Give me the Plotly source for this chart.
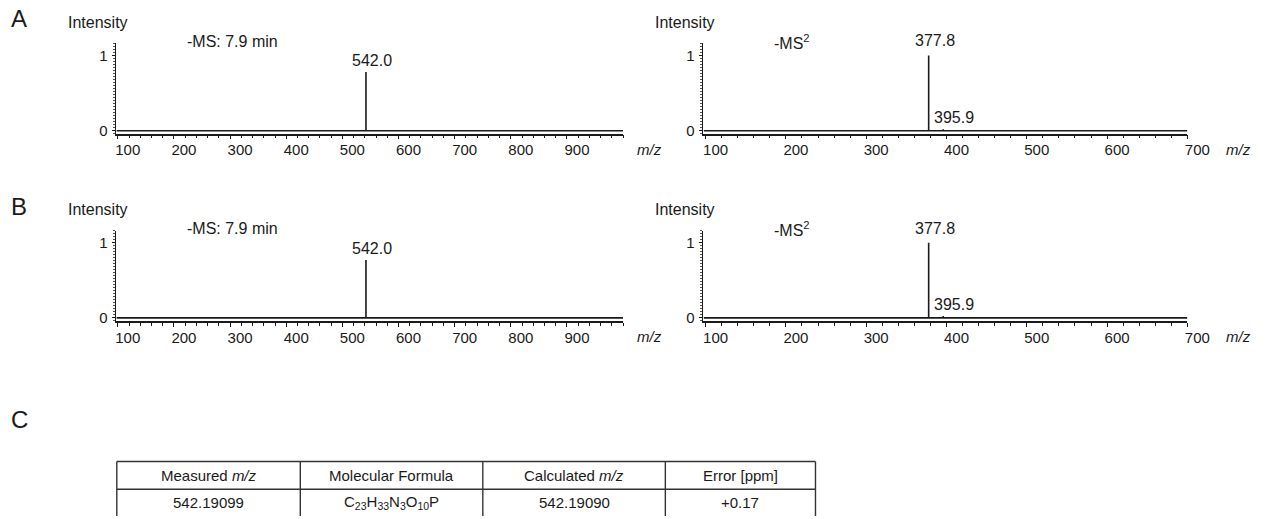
import plotly.graph_objects as go

# ---- spectra: peak m/z and relative intensity ----
ms1_mz_A = [542.0]
ms1_int_A = [0.78]
ms2_mz_A = [377.8, 395.9]
ms2_int_A = [1.0, 0.02]

ms1_mz_B = [542.0]
ms1_int_B = [0.77]
ms2_mz_B = [377.8, 395.9]
ms2_int_B = [1.0, 0.025]

ms1_title = "-MS: 7.9 min"
ms2_title = "-MS<sup>2</sup>"

ms1_range = [96.5, 1000]
ms2_range = [96.3, 700]
ms1_ticks = [100, 200, 300, 400, 500, 600, 700, 800, 900]
ms1_ticktext = ["100", "200", "300", "400", "500", "600", "700", "800", "900"]
ms2_ticks = [100, 200, 300, 400, 500, 600, 700]
ms2_ticktext = ["100", "200", "300", "400", "500", "600", "700"]

# ---- accurate-mass table ----
table_header = ["Measured <i>m/z</i>", "Molecular Formula", "Calculated <i>m/z</i>", "Error [ppm]"]
table_row = ["542.19099",
             "C<sub>23</sub>H<sub>33</sub>N<sub>3</sub>O<sub>10</sub>P",
             "542.19090",
             "+0.17"]
table_colwidths = [187, 186, 186, 153]

W, H = 1283, 519
FONT = "Liberation Sans, Arial, sans-serif"
INK = "#1a1a1a"
Y_RANGE = [-0.04, 1.16]
UNIT = 76  # pixels per intensity unit


def px_x(p):
    return p / W


def px_y(p):
    return 1 - p / H


def stick_xy(mz, inten, lo, hi):
    xs, ys = [lo], [0]
    for m, h in sorted(zip(mz, inten)):
        xs += [m, m, m]
        ys += [0, h, 0]
    xs.append(hi)
    ys.append(0)
    return xs, ys


# panel frames: (left px, right px, baseline px)
frames = {
    1: (117, 634, 132),
    2: (715, 1209, 132),
    3: (117, 634, 321),
    4: (715, 1209, 321),
}

fig = go.Figure()

spectra = [
    (1, ms1_mz_A, ms1_int_A, ms1_range),
    (2, ms2_mz_A, ms2_int_A, ms2_range),
    (3, ms1_mz_B, ms1_int_B, ms1_range),
    (4, ms2_mz_B, ms2_int_B, ms2_range),
]

for k, mz, inten, rng in spectra:
    xs, ys = stick_xy(mz, inten, rng[0] + 1.5, rng[1])
    sfx = "" if k == 1 else str(k)
    fig.add_trace(go.Scatter(
        x=xs, y=ys, mode="lines",
        line=dict(color=INK, width=1.6),
        xaxis="x" + sfx, yaxis="y" + sfx,
        showlegend=False, hoverinfo="skip",
    ))

layout = dict(
    width=W, height=H,
    margin=dict(l=0, r=0, t=0, b=0),
    paper_bgcolor="white", plot_bgcolor="white",
    font=dict(family=FONT, color=INK, size=15),
    showlegend=False,
)

for k, (l, r, base) in frames.items():
    sfx = "" if k == 1 else str(k)
    is_ms1 = k in (1, 3)
    top = base - Y_RANGE[1] * UNIT
    bottom = base - Y_RANGE[0] * UNIT
    layout["xaxis" + sfx] = dict(
        domain=[px_x(l), px_x(r)],
        range=ms1_range if is_ms1 else ms2_range,
        anchor="y" + sfx,
        tickmode="array",
        tickvals=ms1_ticks if is_ms1 else ms2_ticks,
        ticktext=ms1_ticktext if is_ms1 else ms2_ticktext,
        ticks="outside", ticklen=4, tickwidth=1.2, tickcolor=INK,
        minor=dict(tickmode="linear", tick0=0, dtick=20, ticks="outside",
                   ticklen=3, tickwidth=1, tickcolor=INK),
        showline=True, linecolor=INK, linewidth=1.5,
        showgrid=False, zeroline=False,
        tickfont=dict(size=15, family=FONT, color=INK),
        ticklabelshift=10, ticklabelstandoff=-2,
        fixedrange=True,
    )
    layout["yaxis" + sfx] = dict(
        domain=[px_y(bottom), px_y(top)],
        range=Y_RANGE,
        anchor="x" + sfx,
        tickmode="array", tickvals=[0, 1], ticktext=["0", "1"],
        ticks="outside", ticklen=3, tickwidth=1.2, tickcolor=INK,
        minor=dict(tickmode="linear", tick0=0, dtick=0.04, ticks="outside",
                   ticklen=2, tickwidth=1, tickcolor="#555"),
        showline=True, linecolor=INK, linewidth=1.2,
        showgrid=False, zeroline=False,
        tickfont=dict(size=15, family=FONT, color=INK),
        ticklabelstandoff=1,
        fixedrange=True,
    )

fig.update_layout(**layout)

annotations = []

# panel letters
for letter, y in [("A", 19), ("B", 209), ("C", 424)]:
    annotations.append(dict(text=letter, xref="paper", yref="paper",
                            x=px_x(8), y=px_y(y), xanchor="left", yanchor="middle",
                            showarrow=False, font=dict(size=24, family=FONT, color=INK)))

for k, mz, inten, rng in spectra:
    l, r, base = frames[k]
    sfx = "" if k == 1 else str(k)
    # axis captions
    annotations.append(dict(text="Intensity", xref="paper", yref="paper",
                            x=px_x(l - 51), y=px_y(base - 109), xanchor="left", yanchor="middle",
                            showarrow=False, font=dict(size=16, family=FONT, color=INK)))
    annotations.append(dict(text="<i>m/z</i>", xref="paper", yref="paper",
                            x=px_x(r + (27 if k in (1, 3) else 52)), y=px_y(base + 19),
                            xanchor="center", yanchor="middle",
                            showarrow=False, font=dict(size=15, family=FONT, color=INK)))
    # scan title
    annotations.append(dict(text=ms1_title if k in (1, 3) else ms2_title,
                            xref="paper", yref="paper",
                            x=px_x(l + 71), y=px_y(base - 90), xanchor="left", yanchor="middle",
                            showarrow=False, font=dict(size=16, family=FONT, color=INK)))
    # peak labels
    top = max(inten)
    for m, h in zip(mz, inten):
        base_peak = h == top
        annotations.append(dict(text=f"{m:.1f}", xref="x" + sfx, yref="y" + sfx,
                                x=m, y=h, xanchor="center", yanchor="bottom",
                                xshift=6 if base_peak else 11,
                                yshift=4 if (base_peak and k in (2, 4)) else 1,
                                showarrow=False,
                                font=dict(size=16, family=FONT, color=INK)))

# ---- table C: ruled grid with header and one data row ----
TABLE_LEFT, TABLE_TOP, HEADER_H = 118, 466, 28
edges = [TABLE_LEFT]
for w in table_colwidths:
    edges.append(edges[-1] + w)
grid_bottom = H + 2

shapes = []
line_style = dict(color="#333", width=1.4)
for yy in (TABLE_TOP, TABLE_TOP + HEADER_H):
    shapes.append(dict(type="line", xref="paper", yref="paper",
                       x0=px_x(edges[0]), x1=px_x(edges[-1]),
                       y0=px_y(yy), y1=px_y(yy), line=line_style))
for xx in edges:
    shapes.append(dict(type="line", xref="paper", yref="paper",
                       x0=px_x(xx), x1=px_x(xx),
                       y0=px_y(TABLE_TOP), y1=px_y(grid_bottom), line=line_style))

for i, (head, val) in enumerate(zip(table_header, table_row)):
    cx = (edges[i] + edges[i + 1]) / 2
    annotations.append(dict(text=head, xref="paper", yref="paper",
                            x=px_x(cx), y=px_y(TABLE_TOP + HEADER_H / 2),
                            xanchor="center", yanchor="middle", showarrow=False,
                            font=dict(size=15, family=FONT, color=INK)))
    annotations.append(dict(text=val, xref="paper", yref="paper",
                            x=px_x(cx), y=px_y(TABLE_TOP + HEADER_H + 13),
                            xanchor="center", yanchor="middle", showarrow=False,
                            font=dict(size=15, family=FONT, color=INK)))

fig.update_layout(annotations=annotations, shapes=shapes)

fig.write_html("out.html")
